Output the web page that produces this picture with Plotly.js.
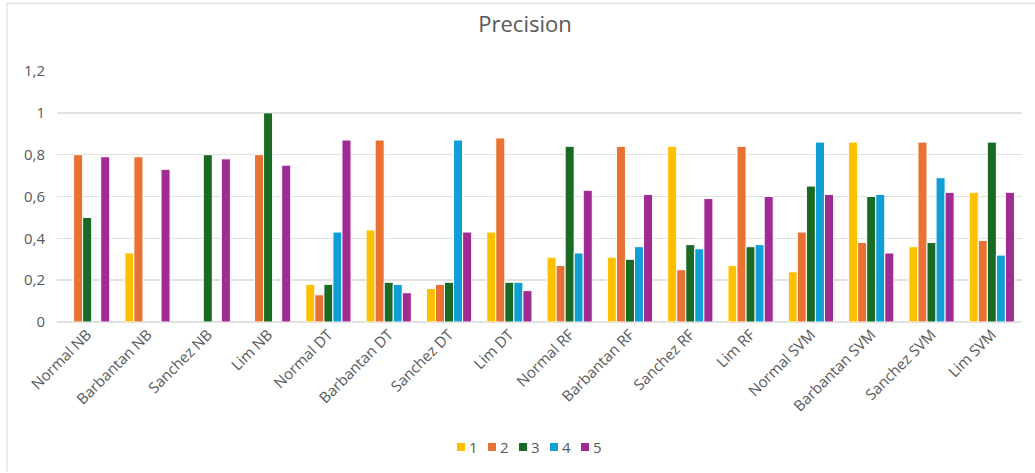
<!DOCTYPE html>
<html>
<head>
<meta charset="utf-8">
<script src="https://cdn.plot.ly/plotly-3.0.1.min.js"></script>
<style>
  html, body { margin: 0; padding: 0; background: #ffffff; }
  #chart { width: 1035px; height: 473px; }
</style>
</head>
<body>
<div id="chart"></div>
<script>
// Classifier / dataset combinations on the x axis
const categories = [
  "Normal NB", "Barbantan NB", "Sanchez NB", "Lim NB",
  "Normal DT", "Barbantan DT", "Sanchez DT", "Lim DT",
  "Normal RF", "Barbantan RF", "Sanchez RF", "Lim RF",
  "Normal SVM", "Barbantan SVM", "Sanchez SVM", "Lim SVM"
];

// Precision per class (null = no bar drawn)
const class1 = [null, 0.33, null, null, 0.18, 0.44, 0.16, 0.43, 0.31, 0.31, 0.84, 0.27, 0.24, 0.86, 0.36, 0.62];
const class2 = [0.80, 0.79, null, 0.80, 0.13, 0.87, 0.18, 0.88, 0.27, 0.84, 0.25, 0.84, 0.43, 0.38, 0.86, 0.39];
const class3 = [0.50, null, 0.80, 1.00, 0.18, 0.19, 0.19, 0.19, 0.84, 0.30, 0.37, 0.36, 0.65, 0.60, 0.38, 0.86];
const class4 = [null, null, null, null, 0.43, 0.18, 0.87, 0.19, 0.33, 0.36, 0.35, 0.37, 0.86, 0.61, 0.69, 0.32];
const class5 = [0.79, 0.73, 0.78, 0.75, 0.87, 0.14, 0.43, 0.15, 0.63, 0.61, 0.59, 0.60, 0.61, 0.33, 0.62, 0.62];

const seriesNames = ["1", "2", "3", "4", "5"];
const seriesValues = [class1, class2, class3, class4, class5];
const seriesColors = ["#FFC000", "#E97132", "#196B24", "#0F9ED5", "#A02B93"];

const textColor = "#595959";
const fontFamily = "'Open Sans', 'Noto Sans', sans-serif";

const traces = seriesValues.map((vals, i) => ({
  type: "bar",
  name: seriesNames[i],
  x: categories,
  y: vals,
  marker: {
    color: seriesColors[i],
    line: { color: "#ffffff", width: 1 }
  },
  hoverinfo: "x+y+name"
}));

const layout = {
  width: 1035,
  height: 473,
  margin: { l: 57, r: 13, t: 71, b: 150 },
  paper_bgcolor: "#ffffff",
  plot_bgcolor: "#ffffff",
  separators: ", ",
  font: { family: fontFamily, size: 15, color: textColor },
  title: {
    text: "Precision",
    font: { family: fontFamily, size: 22, color: textColor },
    x: 525 / 1035,
    xref: "container",
    xanchor: "center",
    y: 1 - 24 / 473,
    yref: "container",
    yanchor: "middle"
  },
  barmode: "group",
  bargap: 0.25,
  bargroupgap: 0,
  xaxis: {
    type: "category",
    tickangle: -45,
    showgrid: false,
    showline: false,
    zeroline: false,
    ticks: "",
    tickfont: { family: fontFamily, size: 15, color: textColor },
    automargin: false
  },
  yaxis: {
    range: [0, 1.2],
    dtick: 0.2,
    tick0: 0,
    showgrid: true,
    gridcolor: "#e1e1e1",
    gridwidth: 1.6,
    zeroline: true,
    zerolinecolor: "#e1e1e1",
    zerolinewidth: 1.6,
    showline: false,
    ticks: "",
    ticklabelstandoff: 11,
    tickfont: { family: fontFamily, size: 15, color: textColor },
    automargin: false
  },
  showlegend: true,
  legend: {
    orientation: "h",
    x: 0.486,
    xanchor: "center",
    y: -0.49,
    yanchor: "middle",
    font: { family: fontFamily, size: 15, color: textColor },
    itemwidth: 30,
    bgcolor: "rgba(0,0,0,0)"
  },
  // thin frame along the top and left edges of the chart area
  shapes: [
    { type: "line", xref: "paper", yref: "paper",
      x0: -50 / 965, x1: 978 / 965, y0: 320 / 252, y1: 320 / 252,
      line: { color: "#d9d9d9", width: 1 } },
    { type: "line", xref: "paper", yref: "paper",
      x0: -50 / 965, x1: -50 / 965, y0: 320 / 252, y1: -150 / 252,
      line: { color: "#d9d9d9", width: 1 } }
  ]
};

// Compact legend: small square swatches, tight spacing between entries
function compactLegend(gd) {
  const legend = gd.querySelector(".legend");
  if (!legend) return;
  const items = Array.from(legend.querySelectorAll("g.traces"));
  const step = 31, half = 4, gap = 4;
  let baseX = null, baseY = 0;
  items.forEach((g, i) => {
    const m = /translate\(\s*([-\d.]+)[ ,]+([-\d.]+)/.exec(g.getAttribute("transform") || "");
    const tx = m ? parseFloat(m[1]) : 0, ty = m ? parseFloat(m[2]) : 0;
    if (baseX === null) { baseX = tx; baseY = ty; }
    g.setAttribute("transform", "translate(" + (baseX + i * step) + "," + baseY + ")");
    const path = g.querySelector(".legendpoints path");
    const text = g.querySelector("text.legendtext");
    if (path) {
      const bb = path.getBBox();
      const cx = bb.x + bb.width / 2, cy = bb.y + bb.height / 2;
      path.setAttribute("d", "M" + (cx + half) + "," + (cy + half) + "H" + (cx - half) +
        "V" + (cy - half) + "H" + (cx + half) + "Z");
      path.style.strokeWidth = "0px";
      if (text) {
        // place the label just right of the swatch
        const pr = path.getBoundingClientRect();
        const tr = text.getBoundingClientRect();
        const dx = (pr.right + gap) - tr.left;
        text.setAttribute("x", parseFloat(text.getAttribute("x") || 0) + dx);
      }
    }
  });
  // shift the whole legend so its first swatch starts at the target x
  const first = legend.querySelector("g.traces .legendpoints path");
  if (first) {
    const r = first.getBoundingClientRect();
    const host = gd.getBoundingClientRect();
    const dx = 457 - (r.left - host.left);
    const dy = 447 - ((r.top + r.bottom) / 2 - host.top);
    const m = /translate\(\s*([-\d.]+)[ ,]+([-\d.]+)/.exec(legend.getAttribute("transform") || "");
    const lx = m ? parseFloat(m[1]) : 0, ly = m ? parseFloat(m[2]) : 0;
    legend.setAttribute("transform", "translate(" + (lx + dx) + "," + (ly + dy) + ")");
  }
}

Plotly.newPlot("chart", traces, layout, { displayModeBar: false, staticPlot: true })
  .then(compactLegend);
</script>
</body>
</html>
